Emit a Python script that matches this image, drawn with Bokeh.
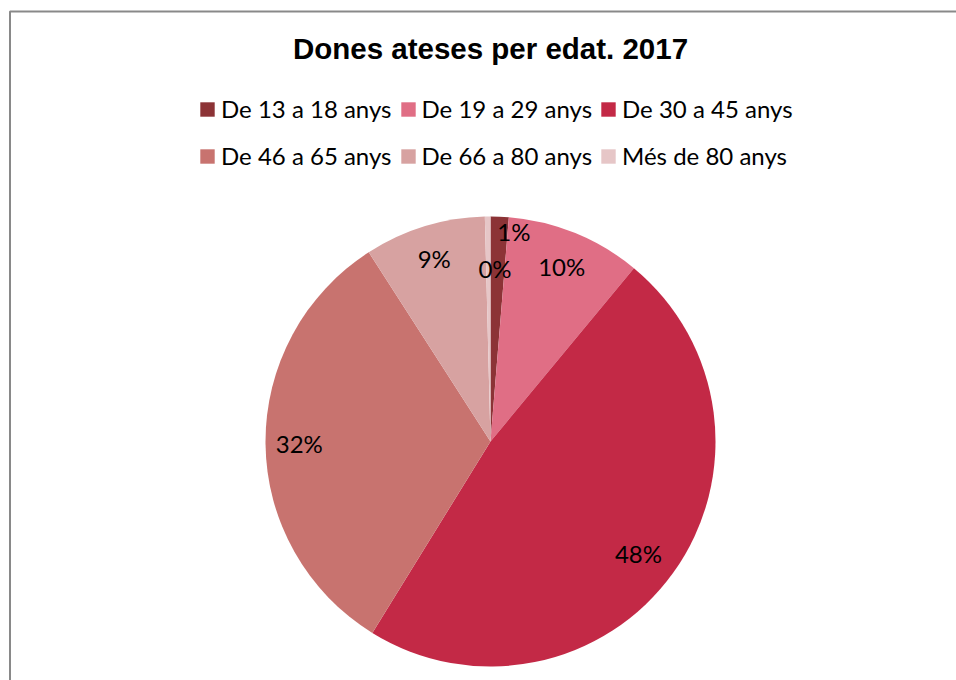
import math
from bokeh.plotting import figure
from bokeh.models import ColumnDataSource, Legend, LegendItem, Label, BoxAnnotation, Range1d
from bokeh.core.properties import value
from bokeh.embed import file_html
from bokeh.resources import INLINE

# ---- data ----
title_text = "Dones ateses per edat. 2017"
categories = ["De 13 a 18 anys", "De 19 a 29 anys", "De 30 a 45 anys",
              "De 46 a 65 anys", "De 66 a 80 anys", "Més de 80 anys"]
shares = [1.3, 9.7, 47.8, 32.1, 8.7, 0.4]
colors = ["#8C3336", "#E06E85", "#C32946", "#C8736F", "#D7A2A1", "#E6C6C7"]

# ---- layout / style ----
W, H = 956, 680
CX, CY = 490, 441          # pie centre, canvas px from left / top
R = 225
label_radius = [0.94, 0.84, 0.825, 0.85, 0.85, 0.77]
label_shift_deg = [4.0, 0.0, 1.5, 0.0, 0.0, 2.2]

total = sum(shares)
starts, ends, lx, ly, txt = [], [], [], [], []
cum = 0.0
for i, s in enumerate(shares):
    f0 = cum / total
    cum += s
    f1 = cum / total
    starts.append(math.pi / 2 - 2 * math.pi * f0)
    ends.append(math.pi / 2 - 2 * math.pi * f1)
    mid = math.radians(360 * (f0 + f1) / 2 + label_shift_deg[i])
    lx.append(label_radius[i] * R * math.sin(mid))
    ly.append(label_radius[i] * R * math.cos(mid))
    txt.append(f"{round(100 * s / total)}%")

src = ColumnDataSource(dict(cat=categories, share=shares, color=colors,
                            start=starts, end=ends, lx=lx, ly=ly, txt=txt))

p = figure(width=W, height=H, output_backend="svg", toolbar_location=None,
           x_range=Range1d(-CX, W - CX), y_range=Range1d(-(H - CY), CY),
           min_border=0, x_axis_location=None, y_axis_location=None)
p.grid.visible = False
p.outline_line_color = None
p.background_fill_color = "white"
p.border_fill_color = "white"

r = p.wedge(x=0, y=0, radius=R, start_angle="start", end_angle="end",
            direction="clock", fill_color="color", line_color=None, source=src)

p.text(x="lx", y="ly", text="txt", source=src, text_align="center",
       text_baseline="middle", text_font=value("Lato"),
       text_font_size="24px", text_color="black")

p.add_layout(Label(x=0, y=CY - 48, text=title_text, text_align="center",
                   text_baseline="middle", text_font="Liberation Sans",
                   text_font_style="bold", text_font_size="29.5px",
                   text_color="black"))

def make_legend(idx, loc):
    return Legend(items=[LegendItem(label=categories[i], renderers=[r], index=i) for i in idx],
                  orientation="horizontal", location=loc,
                  label_text_font="Lato", label_text_font_size="24px",
                  label_text_color="black", glyph_width=18, glyph_height=18,
                  label_height=26, label_standoff=5, spacing=7,
                  padding=0, margin=0, border_line_alpha=0,
                  background_fill_alpha=0)

p.add_layout(make_legend([0, 1, 2], (198, H - 97 - 26)))
p.add_layout(make_legend([3, 4, 5], (198, H - 144 - 26)))

# chart-area border (left and top edges visible; right/bottom fall outside the canvas)
p.add_layout(BoxAnnotation(left=-CX + 9.5, right=W - CX + 20, top=CY - 11,
                           bottom=-(H - CY) - 20, fill_alpha=0,
                           line_color="#898989", line_alpha=1.0, line_width=2,
                           level="overlay"))

open("out.html", "w").write(file_html(p, INLINE))
